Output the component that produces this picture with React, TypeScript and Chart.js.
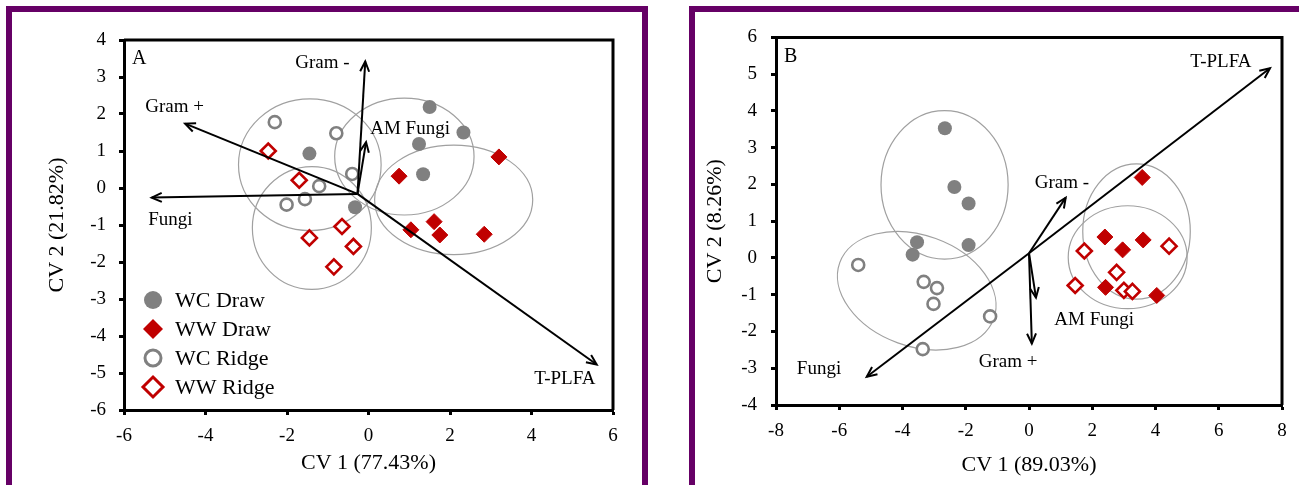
import React, { useEffect, useRef } from "react";
import { Chart, registerables } from "chart.js";

Chart.register(...registerables);

const FONT = "'Liberation Serif', 'Times New Roman', serif";
const GRAY = "#808080";
const RED = "#c00000";
const PURPLE = "#660066";

// ---------------- Panel A data ----------------
const aXTitle = "CV 1 (77.43%)";
const aYTitle = "CV 2 (21.82%)";
const aXRange = [-6, 6];
const aYRange = [-6, 4];
const aWcDraw = [[1.5, 2.19], [2.33, 1.5], [1.24, 1.19], [1.34, 0.37], [-1.45, 0.93], [-0.33, -0.52]];
const aWwDraw = [[3.2, 0.84], [0.75, 0.32], [1.04, -1.13], [1.61, -0.91], [1.75, -1.27], [2.84, -1.25]];
const aWcRidge = [[-2.3, 1.78], [-0.79, 1.48], [-0.4, 0.38], [-1.21, 0.05], [-1.56, -0.3], [-2.01, -0.45]];
const aWwRidge = [[-2.46, 1.0], [-1.7, 0.21], [-0.65, -1.04], [-1.45, -1.35], [-0.37, -1.58], [-0.85, -2.13]];
const aOrigin = [-0.27, -0.16];
const aVectorNames = ["Gram -", "Gram +", "Fungi", "AM Fungi", "T-PLFA"];
const aVectorTips = [[-0.08, 3.42], [-4.5, 1.74], [-5.32, -0.26], [-0.06, 1.24], [5.6, -4.77]];
const aVectorLabelAt = [[-1.13, 3.38], [-4.76, 2.19], [-4.86, -0.86], [1.02, 1.59], [4.82, -5.16]];
// [centre x, centre y, radius x, radius y, rotation deg]
const aEllipses = [
  [-1.44, 0.63, 1.75, 1.78, 0],
  [-1.39, -1.08, 1.46, 1.66, 0],
  [0.88, 0.85, 1.71, 1.58, 0],
  [2.09, -0.32, 1.94, 1.48, 0],
];

// ---------------- Panel B data ----------------
const bXTitle = "CV 1 (89.03%)";
const bYTitle = "CV 2 (8.26%)";
const bXRange = [-8, 8];
const bYRange = [-4, 6];
const bWcDraw = [[-2.66, 3.53], [-2.36, 1.93], [-1.91, 1.48], [-1.91, 0.35], [-3.54, 0.43], [-3.68, 0.09]];
const bWwDraw = [[3.58, 2.19], [2.4, 0.57], [2.96, 0.22], [3.61, 0.49], [2.42, -0.8], [4.04, -1.02]];
const bWcRidge = [[-5.4, -0.19], [-3.33, -0.65], [-2.91, -0.82], [-3.02, -1.25], [-1.23, -1.59], [-3.36, -2.48]];
const bWwRidge = [[1.75, 0.19], [4.43, 0.32], [2.77, -0.39], [1.46, -0.75], [3.0, -0.88], [3.27, -0.91]];
const bOrigin = [0, 0.13];
const bVectorNames = ["T-PLFA", "Fungi", "Gram -", "Gram +", "AM Fungi"];
const bVectorTips = [[7.62, 5.16], [-5.13, -3.23], [1.16, 1.64], [0.09, -2.33], [0.22, -1.08]];
const bVectorLabelAt = [[6.07, 5.34], [-6.64, -3.02], [1.04, 2.03], [-0.66, -2.82], [2.06, -1.7]];
const bEllipses = [
  [-2.67, 1.99, 2.01, 2.02, 0],
  [-3.55, -0.89, 2.59, 1.51, 20],
  [3.4, 0.72, 1.7, 1.84, 0],
  [3.12, 0.02, 1.88, 1.4, 0],
];

const seriesNames = ["WC Draw", "WW Draw", "WC Ridge", "WW Ridge"];

const toPts = (arr: number[][]) => arr.map(([x, y]) => ({ x, y }));

function drawMarker(ctx: CanvasRenderingContext2D, kind: number, x: number, y: number, r: number) {
  ctx.save();
  ctx.beginPath();
  if (kind === 0 || kind === 2) {
    ctx.arc(x, y, r, 0, Math.PI * 2);
  } else {
    ctx.moveTo(x, y - r);
    ctx.lineTo(x + r, y);
    ctx.lineTo(x, y + r);
    ctx.lineTo(x - r, y);
    ctx.closePath();
  }
  if (kind === 0) {
    ctx.fillStyle = GRAY;
    ctx.fill();
  } else if (kind === 1) {
    ctx.fillStyle = RED;
    ctx.fill();
  } else {
    ctx.fillStyle = "#fff";
    ctx.fill();
    ctx.lineWidth = 3;
    ctx.strokeStyle = kind === 2 ? GRAY : RED;
    ctx.stroke();
  }
  ctx.restore();
}

const biplotPlugin = {
  id: "biplot",
  beforeDatasetsDraw(chart: any, _a: any, opts: any) {
    const { ctx } = chart;
    const xs = chart.scales.x;
    const ys = chart.scales.y;
    ctx.save();
    ctx.strokeStyle = "#a0a0a0";
    ctx.lineWidth = 1.2;
    (opts.ellipses || []).forEach(([cx, cy, rx, ry, rot]: number[]) => {
      const px = xs.getPixelForValue(cx);
      const py = ys.getPixelForValue(cy);
      const rpx = Math.abs(xs.getPixelForValue(cx + rx) - px);
      const rpy = Math.abs(ys.getPixelForValue(cy + ry) - py);
      ctx.beginPath();
      ctx.ellipse(px, py, rpx, rpy, (rot * Math.PI) / 180, 0, Math.PI * 2);
      ctx.stroke();
    });
    ctx.restore();
  },
  afterDatasetsDraw(chart: any, _a: any, opts: any) {
    const { ctx } = chart;
    const xs = chart.scales.x;
    const ys = chart.scales.y;
    const ox = xs.getPixelForValue(opts.origin[0]);
    const oy = ys.getPixelForValue(opts.origin[1]);
    ctx.save();
    ctx.strokeStyle = "#000";
    ctx.lineWidth = 2;
    ctx.lineJoin = "miter";
    (opts.tips || []).forEach(([tx0, ty0]: number[]) => {
      const tx = xs.getPixelForValue(tx0);
      const ty = ys.getPixelForValue(ty0);
      const ang = Math.atan2(ty - oy, tx - ox);
      const L = 11;
      const s = 0.42;
      ctx.beginPath();
      ctx.moveTo(tx - L * Math.cos(ang - s), ty - L * Math.sin(ang - s));
      ctx.lineTo(tx, ty);
      ctx.lineTo(tx - L * Math.cos(ang + s), ty - L * Math.sin(ang + s));
      ctx.stroke();
    });
    ctx.fillStyle = "#000";
    ctx.font = `19px ${FONT}`;
    ctx.textAlign = "center";
    ctx.textBaseline = "middle";
    (opts.labels || []).forEach((name: string, i: number) => {
      const [lx, ly] = opts.labelAt[i];
      ctx.fillText(name, xs.getPixelForValue(lx), ys.getPixelForValue(ly));
    });
    ctx.restore();
  },
  afterDraw(chart: any, _a: any, opts: any) {
    const { ctx, chartArea } = chart;
    ctx.save();
    ctx.strokeStyle = "#000";
    ctx.lineWidth = 3;
    ctx.beginPath();
    ctx.moveTo(chartArea.left, chartArea.top);
    ctx.lineTo(chartArea.right, chartArea.top);
    ctx.lineTo(chartArea.right, chartArea.bottom);
    ctx.stroke();
    ctx.fillStyle = "#000";
    ctx.font = `20px ${FONT}`;
    ctx.textAlign = "left";
    ctx.textBaseline = "middle";
    ctx.fillText(opts.letter, chartArea.left + 8, chartArea.top + 19);
    if (opts.legend) {
      ctx.font = `22px ${FONT}`;
      seriesNames.forEach((name, i) => {
        const yy = chartArea.top + 260 + 29 * i;
        const r = i % 2 === 0 ? (i === 0 ? 9 : 8) : 10;
        drawMarker(ctx, i, chartArea.left + 29, yy, r);
        ctx.fillStyle = "#000";
        ctx.fillText(name, chartArea.left + 51, yy + 1);
      });
    }
    ctx.restore();
  },
};

type PanelSpec = {
  xRange: number[];
  yRange: number[];
  xStep: number;
  xTitle: string;
  yTitle: string;
  wcDraw: number[][];
  wwDraw: number[][];
  wcRidge: number[][];
  wwRidge: number[][];
  origin: number[];
  names: string[];
  tips: number[][];
  labelAt: number[][];
  ellipses: number[][];
  letter: string;
  legend: boolean;
  pad: { top: number; right: number };
  yWidth: number;
  xHeight: number;
  yTitlePad: number;
  xTitlePad: number;
  yTickPad: number;
};

function buildConfig(p: PanelSpec): any {
  const datasets: any[] = [];
  p.tips.forEach((t, i) => {
    datasets.push({
      label: p.names[i],
      data: [
        { x: p.origin[0], y: p.origin[1] },
        { x: t[0], y: t[1] },
      ],
      showLine: true,
      borderColor: "#000",
      borderWidth: 2,
      pointRadius: 0,
      order: 0,
    });
  });
  datasets.push({
    label: seriesNames[0],
    data: toPts(p.wcDraw),
    pointStyle: "circle",
    pointRadius: 7,
    pointBackgroundColor: GRAY,
    pointBorderColor: GRAY,
    pointBorderWidth: 0,
    order: 2,
  });
  datasets.push({
    label: seriesNames[1],
    data: toPts(p.wwDraw),
    pointStyle: "rectRot",
    pointRadius: 8,
    pointBackgroundColor: RED,
    pointBorderColor: RED,
    pointBorderWidth: 1,
    order: 2,
  });
  datasets.push({
    label: seriesNames[2],
    data: toPts(p.wcRidge),
    pointStyle: "circle",
    pointRadius: 6,
    pointBackgroundColor: "#fff",
    pointBorderColor: GRAY,
    pointBorderWidth: 2.6,
    order: 1,
  });
  datasets.push({
    label: seriesNames[3],
    data: toPts(p.wwRidge),
    pointStyle: "rectRot",
    pointRadius: 7.5,
    pointBackgroundColor: "#fff",
    pointBorderColor: RED,
    pointBorderWidth: 2.6,
    order: 1,
  });

  const tickFont = { family: FONT, size: 19 };
  const titleFont = { family: FONT, size: 22 };
  const grid = {
    drawOnChartArea: false,
    drawTicks: true,
    tickLength: 5,
    tickColor: "#000",
    tickWidth: 3,
  };
  const border = { display: true, color: "#000", width: 3 };

  return {
    type: "scatter",
    data: { datasets },
    plugins: [biplotPlugin],
    options: {
      animation: false,
      responsive: true,
      maintainAspectRatio: false,
      devicePixelRatio: 1,
      events: [],
      layout: { padding: { top: p.pad.top, right: p.pad.right, left: 0, bottom: 0 } },
      plugins: {
        legend: { display: false },
        tooltip: { enabled: false },
        biplot: {
          ellipses: p.ellipses,
          origin: p.origin,
          tips: p.tips,
          labels: p.names,
          labelAt: p.labelAt,
          letter: p.letter,
          legend: p.legend,
        },
      },
      scales: {
        x: {
          type: "linear",
          min: p.xRange[0],
          max: p.xRange[1],
          ticks: { stepSize: p.xStep, color: "#000", font: tickFont, padding: 10 },
          grid,
          border,
          title: {
            display: true,
            text: p.xTitle,
            color: "#000",
            font: titleFont,
            padding: { top: 0, bottom: p.xTitlePad },
          },
          afterFit: (s: any) => {
            s.height = p.xHeight;
          },
        },
        y: {
          type: "linear",
          min: p.yRange[0],
          max: p.yRange[1],
          ticks: { stepSize: 1, color: "#000", font: tickFont, padding: p.yTickPad },
          grid,
          border,
          title: {
            display: true,
            text: p.yTitle,
            color: "#000",
            font: titleFont,
            padding: { top: p.yTitlePad, bottom: 0 },
          },
          afterFit: (s: any) => {
            s.width = p.yWidth;
          },
        },
      },
    },
  };
}

const panelA: PanelSpec = {
  xRange: aXRange,
  yRange: aYRange,
  xStep: 2,
  xTitle: aXTitle,
  yTitle: aYTitle,
  wcDraw: aWcDraw,
  wwDraw: aWwDraw,
  wcRidge: aWcRidge,
  wwRidge: aWwRidge,
  origin: aOrigin,
  names: aVectorNames,
  tips: aVectorTips,
  labelAt: aVectorLabelAt,
  ellipses: aEllipses,
  letter: "A",
  legend: true,
  pad: { top: 28, right: 29 },
  yWidth: 112,
  xHeight: 75,
  yTitlePad: 32,
  xTitlePad: 9,
  yTickPad: 13,
};

const panelB: PanelSpec = {
  xRange: bXRange,
  yRange: bYRange,
  xStep: 2,
  xTitle: bXTitle,
  yTitle: bYTitle,
  wcDraw: bWcDraw,
  wwDraw: bWwDraw,
  wcRidge: bWcRidge,
  wwRidge: bWwRidge,
  origin: bOrigin,
  names: bVectorNames,
  tips: bVectorTips,
  labelAt: bVectorLabelAt,
  ellipses: bEllipses,
  letter: "B",
  legend: false,
  pad: { top: 15, right: 17 },
  yWidth: 81,
  xHeight: 80,
  yTitlePad: 7,
  xTitlePad: 7,
  yTickPad: 14,
};

export default function App() {
  const refA = useRef<HTMLCanvasElement | null>(null);
  const refB = useRef<HTMLCanvasElement | null>(null);

  useEffect(() => {
    const charts: Chart[] = [];
    if (refA.current) charts.push(new Chart(refA.current, buildConfig(panelA)));
    if (refB.current) charts.push(new Chart(refB.current, buildConfig(panelB)));
    return () => charts.forEach((c) => c.destroy());
  }, []);

  return (
    <div
      style={{
        position: "absolute",
        left: 0,
        top: 0,
        width: 1299,
        height: 485,
        background: "#fff",
        overflow: "hidden",
      }}
    >
      <div
        style={{
          position: "absolute",
          left: 6,
          top: 6,
          width: 642,
          height: 600,
          boxSizing: "border-box",
          border: `6px solid ${PURPLE}`,
        }}
      />
      <div
        style={{
          position: "absolute",
          left: 689,
          top: 6,
          width: 700,
          height: 600,
          boxSizing: "border-box",
          border: `6px solid ${PURPLE}`,
        }}
      />
      <div style={{ position: "absolute", left: 12, top: 12, width: 630, height: 473 }}>
        <canvas ref={refA} />
      </div>
      <div style={{ position: "absolute", left: 695, top: 12, width: 604, height: 473 }}>
        <canvas ref={refB} />
      </div>
    </div>
  );
}
